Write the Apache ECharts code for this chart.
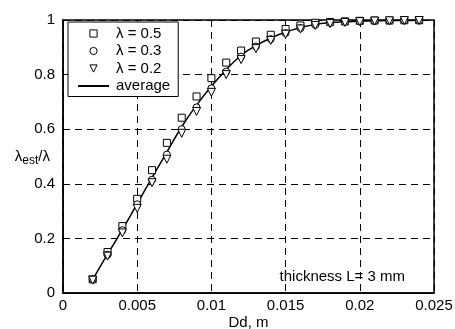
<!DOCTYPE html>
<html><head><meta charset="utf-8">
<script src="https://cdn.jsdelivr.net/npm/echarts@6/dist/echarts.min.js"></script>
<style>html,body{margin:0;padding:0;background:#fff}#c{width:455px;height:329px}</style>
</head><body><div id="c"></div>
<script>
const dd = [0.002,0.003,0.004,0.005,0.006,0.007,0.008,0.009,0.010,0.011,0.012,0.013,0.014,0.015,0.016,0.017,0.018,0.019,0.020,0.021,0.022,0.023,0.024];
const lam05 = [0.05,0.15,0.245,0.345,0.45,0.55,0.642,0.72,0.787,0.844,0.888,0.921,0.946,0.967,0.98,0.99,0.993,0.995,0.997,0.998,0.998,0.999,0.999];
const lam03 = [0.05,0.14,0.23,0.325,0.415,0.507,0.60,0.68,0.75,0.811,0.866,0.903,0.93,0.952,0.97,0.982,0.989,0.993,0.995,0.997,0.998,0.998,0.999];
const lam02 = [0.047,0.135,0.22,0.31,0.404,0.49,0.585,0.665,0.735,0.80,0.855,0.895,0.925,0.948,0.967,0.98,0.987,0.991,0.994,0.996,0.997,0.998,0.998];
const avg   = [0.049,0.142,0.232,0.327,0.423,0.516,0.609,0.688,0.757,0.818,0.870,0.906,0.934,0.956,0.972,0.984,0.99,0.993,0.995,0.997,0.998,0.998,0.999];
const xTicks = ['0','0.005','0.01','0.015','0.02','0.025'];
const yTicks = ['0','0.2','0.4','0.6','0.8','1'];
const pairs = a => dd.map((x,i)=>[x,a[i]]);
const font = 'Liberation Sans, Arial, sans-serif';
const FS = 15;
const chart = echarts.init(document.getElementById('c'), null, {renderer:'canvas'});
const mk = {color:'#fff', borderColor:'#000', borderWidth:1};
const noLine = {width:0, opacity:0};
function markerSeries(name, data, symbol, size, rot){
  return {name, type:'line', data:pairs(data), symbol, symbolSize:size, symbolRotate:rot||0,
    showSymbol:true, lineStyle:noLine, itemStyle:mk, z:3, emphasis:{disabled:true}};
}
chart.setOption({
  animation:false,
  textStyle:{fontFamily:font},
  grid:{left:63,right:21,top:20,bottom:36,show:true,borderColor:'#000',borderWidth:1.5,backgroundColor:'transparent',
    containLabel:false,outerBoundsMode:'none'},
  xAxis:{type:'value',min:0,max:0.025,interval:0.005,
    axisLine:{lineStyle:{color:'#000',width:1.5}},axisTick:{show:false},
    axisLabel:{color:'#000',fontSize:FS,fontFamily:font,margin:5,formatter:(v)=>xTicks[Math.round(v/0.005)]},
    splitLine:{show:true,lineStyle:{color:'#000',type:[7,5],width:1}},
    name:'Dd, m',nameLocation:'middle',nameGap:22,nameMoveOverlap:false,nameTextStyle:{color:'#000',fontSize:FS,fontFamily:font}},
  yAxis:{type:'value',min:0,max:1,interval:0.2,
    axisLine:{lineStyle:{color:'#000',width:1.5}},axisTick:{show:false},
    axisLabel:{color:'#000',fontSize:FS,fontFamily:font,margin:8,formatter:(v)=>yTicks[Math.round(v/0.2)]},
    splitLine:{show:true,lineStyle:{color:'#000',type:[7,5],width:1}},
    name:'{a|λ}{b|est}{a|/λ}',nameLocation:'middle',nameRotate:0,nameGap:13,nameMoveOverlap:false,
    nameTextStyle:{rich:{a:{fontSize:FS,color:'#000',fontFamily:font},b:{fontSize:12,color:'#000',fontFamily:font,padding:[9,0,0,0]}}}},
  legend:{left:68,top:22,orient:'vertical',itemGap:2.5,itemWidth:31,itemHeight:9,
    backgroundColor:'#fff',borderColor:'#000',borderWidth:1,padding:[4,8,3,9],
    textStyle:{color:'#000',fontSize:FS,fontFamily:font,lineHeight:15,padding:[0,0,0,2]},
    itemStyle:{borderWidth:1},
    data:[
      {name:'λ = 0.5',lineStyle:{opacity:0}},
      {name:'λ = 0.3',lineStyle:{opacity:0}},
      {name:'λ = 0.2',lineStyle:{opacity:0}},
      {name:'average',itemStyle:{opacity:0}}
    ]},
  series:[
    {name:'average',type:'line',data:pairs(avg),smooth:true,showSymbol:false,symbol:'none',
      lineStyle:{color:'#000',width:1.5},itemStyle:{color:'#000'},z:1},
    markerSeries('λ = 0.5',lam05,'rect',7),
    markerSeries('λ = 0.3',lam03,'circle',7),
    markerSeries('λ = 0.2',lam02,'triangle',8,180)
  ],
  graphic:[{type:'text',right:50,top:269,style:{text:'thickness L= 3 mm',fill:'#000',fontSize:FS,fontFamily:font}}]
});
</script></body></html>
